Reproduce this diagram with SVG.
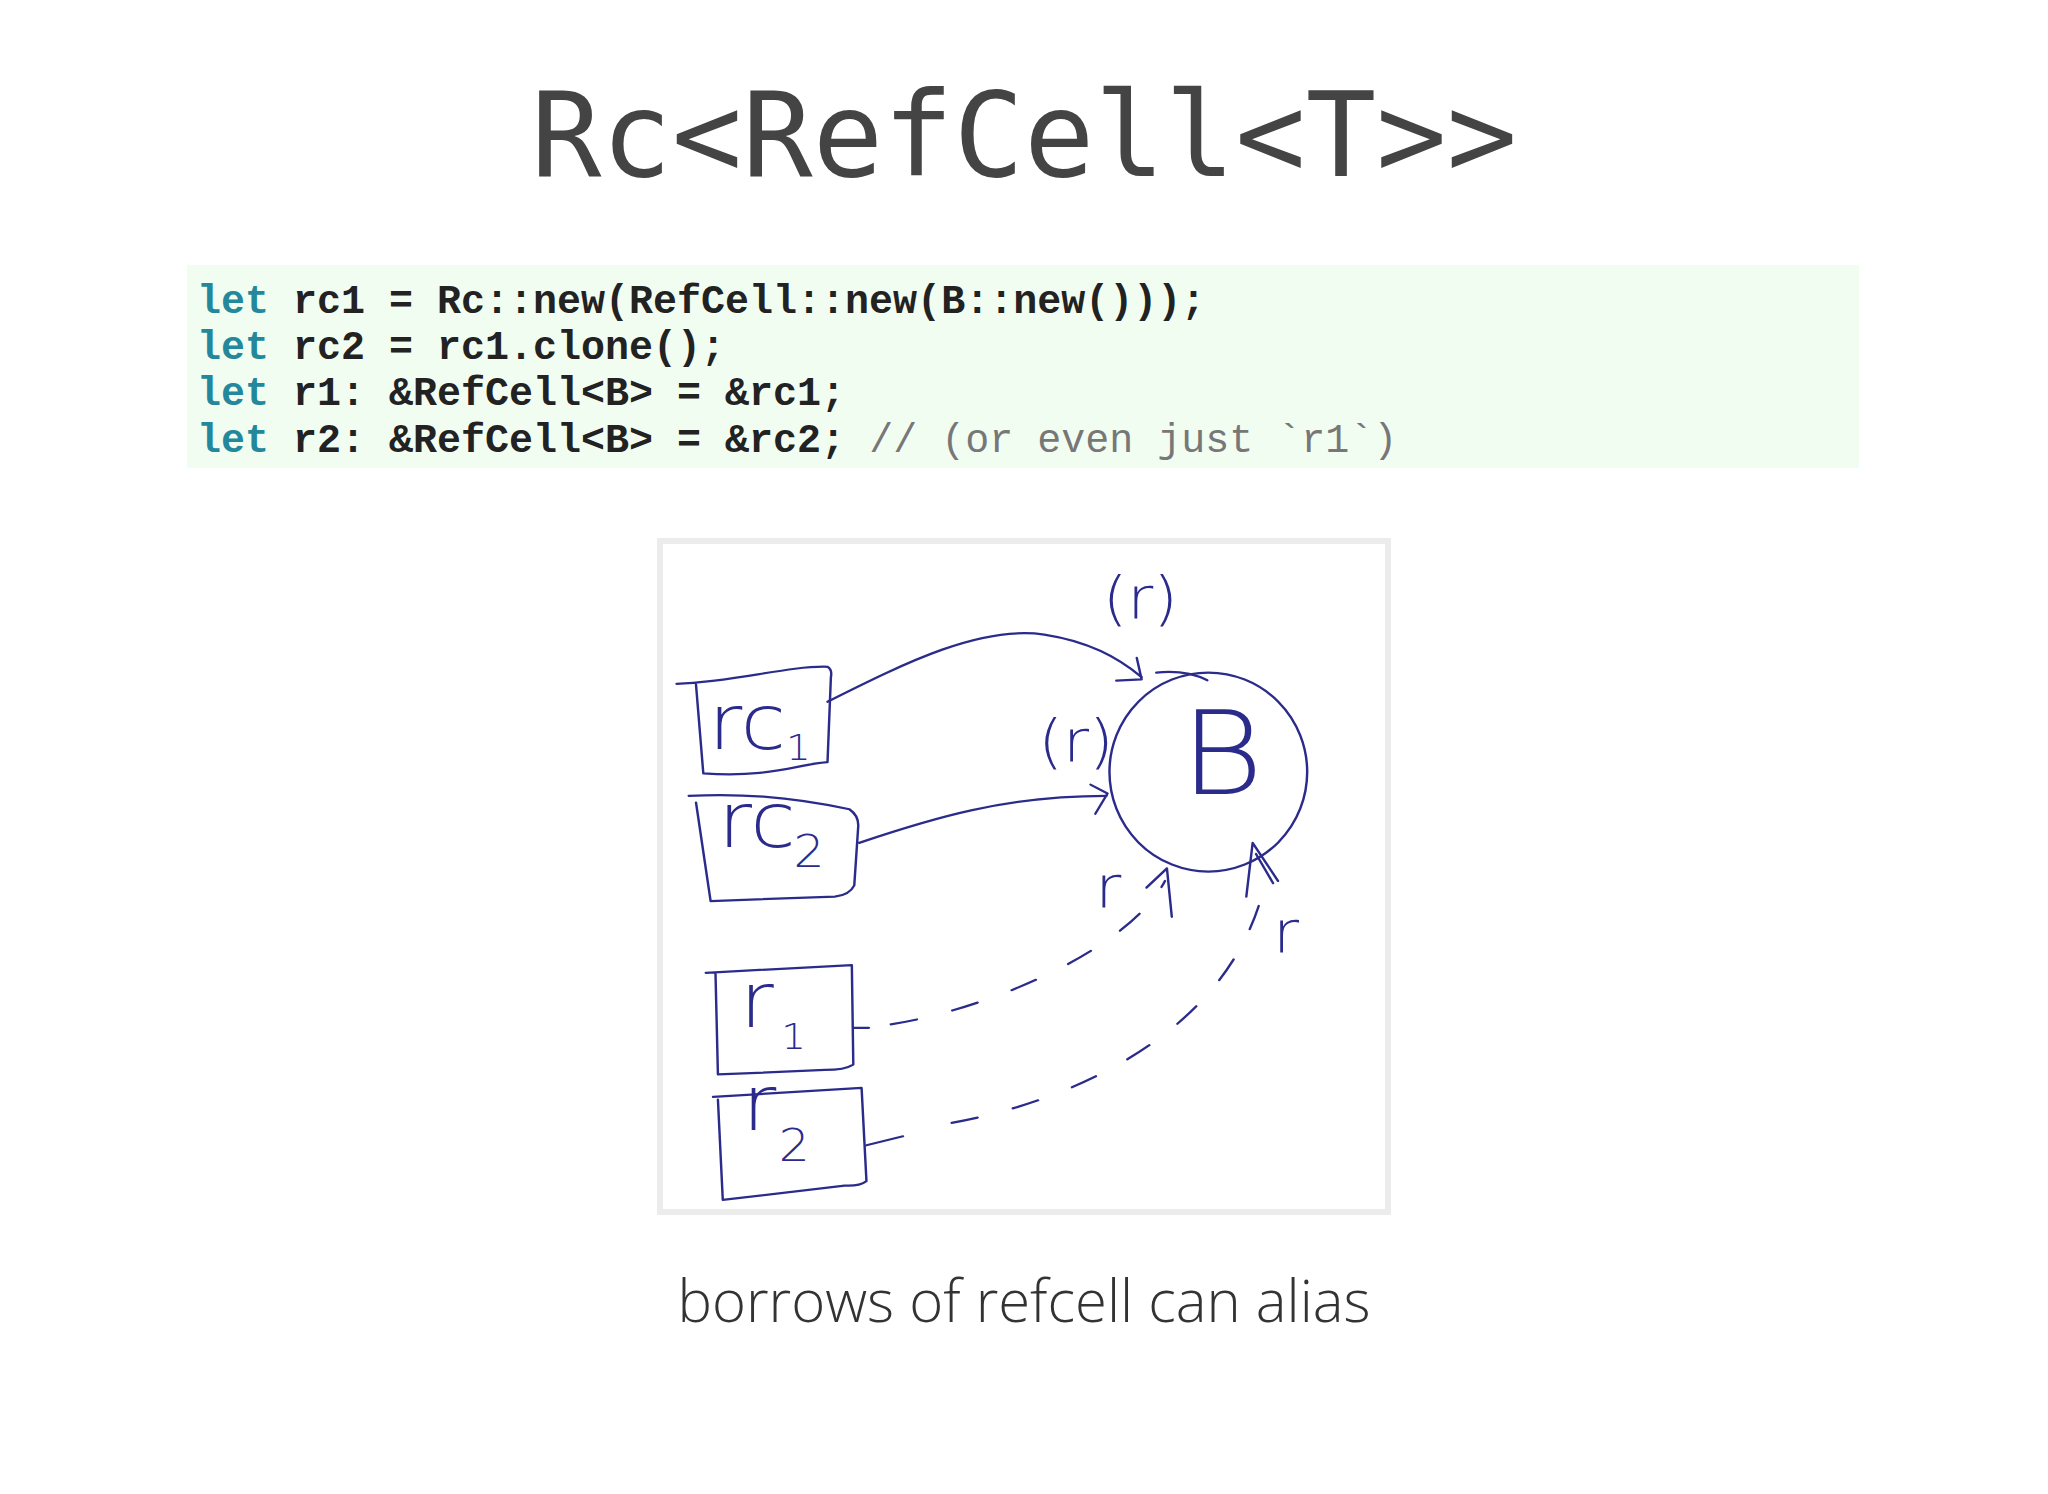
<svg xmlns="http://www.w3.org/2000/svg" width="2048" height="1494" viewBox="0 0 2048 1494">
<style>
.code{font-family:"Liberation Mono","Courier New",monospace;font-size:40px;font-weight:bold;fill:#222;}
.kw{fill:#23889c;}
.cm{fill:#777;font-weight:normal;}
.ink{fill:none;stroke:#2b2b8c;stroke-width:5;stroke-linecap:round;stroke-linejoin:round;}
.dash{stroke-dasharray:55 75;}
.hw{font-family:"DejaVu Sans",sans-serif;font-weight:200;fill:#2b2b8c;}
</style>
<rect width="2048" height="1494" fill="#fff"/>
<text x="1024" y="176" text-anchor="middle" font-family="DejaVu Sans Mono, monospace" font-size="117" fill="#444">Rc&lt;RefCell&lt;T&gt;&gt;</text>
<g id="code">
<rect x="187" y="265" width="1672" height="203" fill="#f2fdf2"/>
<text class="code" x="197" y="313" xml:space="preserve"><tspan class="kw">let</tspan> rc1 = Rc::new(RefCell::new(B::new()));</text>
<text class="code" x="197" y="359" xml:space="preserve"><tspan class="kw">let</tspan> rc2 = rc1.clone();</text>
<text class="code" x="197" y="405" xml:space="preserve"><tspan class="kw">let</tspan> r1: &amp;RefCell&lt;B&gt; = &amp;rc1;</text>
<text class="code" x="197" y="452" xml:space="preserve"><tspan class="kw">let</tspan> r2: &amp;RefCell&lt;B&gt; = &amp;rc2; <tspan class="cm">// (or even just `r1`)</tspan></text>
</g>
<rect x="660" y="541" width="728" height="671" fill="#fff" stroke="#ececec" stroke-width="6"/>
<g transform="translate(640,527) scale(0.487,0.448)">
<g id="rc1"><path class="ink" d="M75,350 C200,345 300,310 385,312 Q395,318 392,335 L385,525 C320,530 270,560 130,550 L115,352"/>
<text class="hw" x="140" y="495" font-size="170">rc</text><text class="hw" x="300" y="520" font-size="80">1</text></g>
<g id="rc2"><path class="ink" d="M100,600 C200,595 300,600 430,630 Q450,645 448,670 L440,800 Q430,822 400,825 L145,835 L115,615"/>
<text class="hw" x="160" y="715" font-size="170">rc</text><text class="hw" x="315" y="760" font-size="100">2</text></g>
<g id="r1"><path class="ink" d="M135,995 L435,978 L438,1200 Q420,1212 380,1212 L160,1222 L155,995"/>
<text class="hw" x="205" y="1115" font-size="170">r</text><text class="hw" x="290" y="1165" font-size="80">1</text></g>
<g id="r2"><path class="ink" d="M150,1272 L455,1252 L465,1460 Q450,1472 420,1470 L170,1502 L160,1278"/>
<text class="hw" x="210" y="1345" font-size="170">r</text><text class="hw" x="285" y="1415" font-size="100">2</text></g>
<g id="B"><ellipse class="ink" cx="1167" cy="547" rx="203" ry="222"/><path class="ink" d="M1060,325 Q1120,318 1165,342"/>
<text class="hw" x="1110" y="595" font-size="260">B</text></g>
<g id="connectors">
<path class="ink" d="M385,390 C550,300 700,220 830,240 C920,255 980,290 1030,335"/>
<path class="ink" d="M1020,292 L1030,340 L978,343"/>
<path class="ink" d="M450,705 C600,650 750,600 958,600"/>
<path class="ink" d="M925,575 L960,595 L935,640"/>
<path class="ink" d="M440,1118 L470,1118"/>
<path class="ink dash" d="M515,1110 C700,1080 1000,950 1078,790"/>
<path class="ink" d="M1040,805 L1082,762 L1092,870"/>
<path class="ink" d="M465,1380 L540,1360"/>
<path class="ink dash" d="M640,1330 C800,1300 1180,1180 1275,830"/>
<path class="ink" d="M1245,825 L1258,705 L1310,790 M1265,730 L1300,795"/>
</g>
<text class="hw" x="950" y="205" font-size="130">(r)</text>
<text class="hw" x="818" y="525" font-size="130">(r)</text>
<text class="hw" x="935" y="850" font-size="130">r</text>
<text class="hw" x="1300" y="950" font-size="130">r</text>
</g>
<text x="1024" y="1322" text-anchor="middle" font-family="Open Sans, sans-serif" font-weight="300" font-size="58" fill="#333">borrows of refcell can alias</text>
</svg>
